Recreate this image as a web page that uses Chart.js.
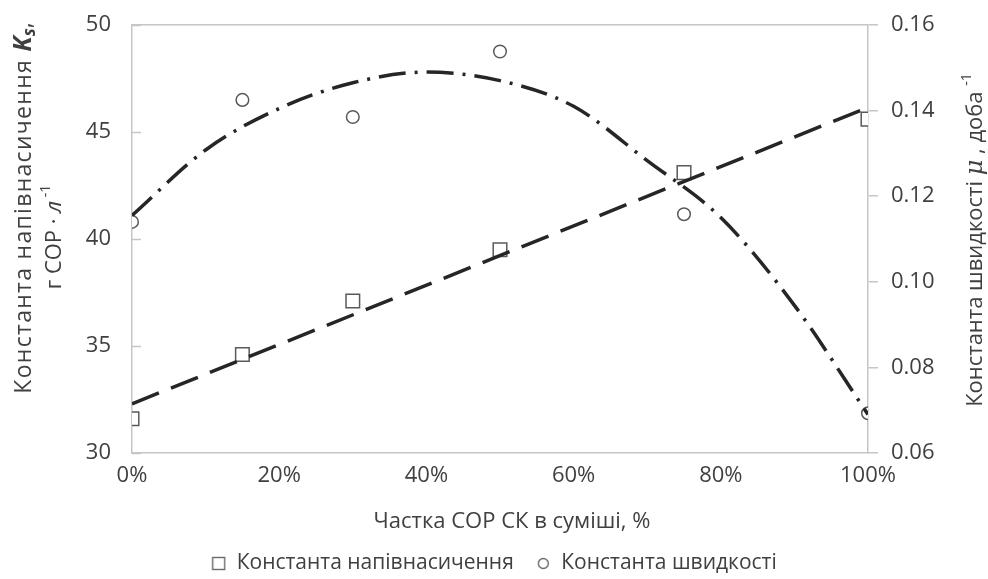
<!DOCTYPE html>
<html><head><meta charset="utf-8">
<script src="https://cdn.jsdelivr.net/npm/chart.js@4/dist/chart.umd.min.js"></script>
<style>html,body{margin:0;padding:0;background:#fff;}canvas{display:block;}</style>
</head><body>
<canvas id="c" width="988" height="579"></canvas>
<script>
// ---- data ----
const shareX = [0, 15, 30, 50, 75, 100];               // % of SOR SK in the mixture
const ksValues = [31.6, 34.6, 37.1, 39.5, 43.1, 45.6]; // left axis
const muValues = [0.114, 0.1425, 0.1385, 0.1538, 0.1158, 0.0693]; // right axis
const ksTrendX = [0, 100];
const ksTrendY = [32.3, 46.15];
const muTrendX = [0, 10, 20, 30, 40, 50, 60, 70, 80, 90, 100];
const muTrendY = [0.1155, 0.1308, 0.1405, 0.1465, 0.149, 0.147, 0.141, 0.1283, 0.115, 0.0945, 0.069];
const xTickValues = [0, 20, 40, 60, 80, 100];
const leftTickValues = [30, 35, 40, 45, 50];
const rightTickValues = [0.06, 0.08, 0.10, 0.12, 0.14, 0.16];
const legendLabels = ['Константа напівнасичення', 'Константа швидкості'];
const xTitle = 'Частка СОР СК в суміші, %';

const FONT = '"Open Sans", "Noto Sans", sans-serif';
const TXT = '#404040';
const AX = '#c6c6c6';
const LINE = '#262626';
const MK = '#5a5a5a';
const PLOT_BOTTOM = 453;

const pts = (xs, ys) => xs.map((x, i) => ({x: x, y: ys[i]}));

function markerCanvas(kind) {
  const c = document.createElement('canvas');
  const s = kind === 'rect' ? 15 : 13;
  c.width = s; c.height = s;
  const g = c.getContext('2d');
  g.strokeStyle = '#6a6a6a'; g.lineWidth = 1.4; g.fillStyle = '#fff';
  if (kind === 'rect') { g.fillRect(1, 1, 13, 13); g.strokeRect(1.5, 1.5, 12, 12); }
  else { g.beginPath(); g.arc(6.5, 6.5, 5, 0, Math.PI * 2); g.fill(); g.stroke(); }
  return c;
}
const legendIcons = [markerCanvas('rect'), markerCanvas('circle')];

function drawRich(ctx, segs, cx, cy, rot) {
  ctx.save();
  ctx.translate(cx, cy);
  ctx.rotate(rot);
  ctx.textBaseline = 'middle';
  ctx.textAlign = 'left';
  let total = 0;
  segs.forEach(s => {
    ctx.font = s.font; ctx.letterSpacing = s.ls || '0px';
    s.w = ctx.measureText(s.t).width; total += s.w;
  });
  let x = -total / 2;
  segs.forEach(s => {
    ctx.font = s.font; ctx.letterSpacing = s.ls || '0px'; ctx.fillStyle = TXT;
    ctx.fillText(s.t, x, s.dy || 0);
    x += s.w;
  });
  ctx.restore();
}

const titlesPlugin = {
  id: 'titles',
  afterDraw(chart) {
    const ctx = chart.ctx;
    const N = '22px ' + FONT;
    // left title, line 1
    drawRich(ctx, [
      {t: 'Константа напівнасичення ', font: '23px ' + FONT, ls: '1.3px'},
      {t: 'K', font: 'italic bold 25px ' + FONT},
      {t: 's', font: 'italic bold 17px ' + FONT, dy: 6},
      {t: ',', font: '23px ' + FONT}
    ], 24, 208, -Math.PI / 2);
    // left title, line 2
    drawRich(ctx, [
      {t: 'г СОР · ', font: N},
      {t: 'л', font: 'italic 22px ' + FONT},
      {t: ' -1', font: '14px ' + FONT, dy: -9}
    ], 55, 237, -Math.PI / 2);
    // right title
    drawRich(ctx, [
      {t: 'Константа швидкості ', font: N},
      {t: 'μ', font: 'italic 24px "DejaVu Serif", serif'},
      {t: ' , доба ', font: N},
      {t: '-1', font: '14px ' + FONT, dy: -9}
    ], 976, 240, -Math.PI / 2);
    // x title
    drawRich(ctx, [{t: xTitle, font: N}], 512, 522, 0);
    // inward tick marks on the left axis
    const y = chart.scales.y, area = chart.chartArea;
    ctx.save();
    ctx.strokeStyle = AX; ctx.lineWidth = 1.5;
    leftTickValues.forEach(v => {
      const py = Math.round(y.getPixelForValue(v)) + 0.5;
      ctx.beginPath(); ctx.moveTo(area.left, py); ctx.lineTo(area.left + 9, py); ctx.stroke();
    });
    ctx.restore();
  }
};

const noPadV = s => { s.paddingTop = 0; s.paddingBottom = 0; };

new Chart(document.getElementById('c'), {
  type: 'scatter',
  data: {
    datasets: [
      {label: legendLabels[0], data: pts(shareX, ksValues), yAxisID: 'y', order: 1,
       pointStyle: 'rect', pointRadius: 9.6, pointBorderColor: MK, pointBackgroundColor: '#fff',
       pointBorderWidth: 1.5, showLine: false},
      {label: legendLabels[1], data: pts(shareX, muValues), yAxisID: 'y1', order: 1,
       pointStyle: 'circle', pointRadius: 6.3, pointBorderColor: MK, pointBackgroundColor: '#fff',
       pointBorderWidth: 1.5, showLine: false},
      {label: 'ksTrend', data: pts(ksTrendX, ksTrendY), yAxisID: 'y', order: 0,
       showLine: true, borderColor: LINE, borderWidth: 3.5, borderDash: [29, 13],
       pointRadius: 0, borderCapStyle: 'butt'},
      {label: 'muTrend', data: pts(muTrendX, muTrendY), yAxisID: 'y1', order: 0,
       showLine: true, borderColor: LINE, borderWidth: 3.5, borderDash: [27, 9, 3, 9],
       pointRadius: 0, tension: 0.4, cubicInterpolationMode: 'monotone', borderCapStyle: 'butt'}
    ]
  },
  options: {
    responsive: false, animation: false, devicePixelRatio: 1,
    layout: {padding: {top: 25, left: 0, right: 0, bottom: -5}},
    plugins: {
      tooltip: {enabled: false},
      legend: {
        position: 'bottom',
        labels: {
          usePointStyle: true, boxWidth: 15, boxHeight: 15, padding: 22,
          color: TXT, font: {family: FONT, size: 21},
          filter: item => item.datasetIndex < 2,
          generateLabels(chart) {
            const items = Chart.defaults.plugins.legend.labels.generateLabels(chart);
            items.forEach(it => { if (it.datasetIndex < 2) it.pointStyle = legendIcons[it.datasetIndex]; });
            return items;
          }
        }
      }
    },
    scales: {
      x: {
        type: 'linear', min: 0, max: 100,
        afterBuildTicks: s => { s.ticks = xTickValues.map(v => ({value: v})); },
        afterFit: s => {
          const lg = s.chart.legend ? s.chart.legend.height : 0;
          s.height = Math.max(20, 579 - PLOT_BOTTOM - lg + 5);
          s.paddingLeft = 0; s.paddingRight = 0;
        },
        ticks: {callback: v => v + '%', color: TXT, font: {family: FONT, size: 22}, padding: 10, maxRotation: 0},
        grid: {display: true, drawOnChartArea: false, drawTicks: false, color: AX},
        border: {display: true, color: AX, width: 1.5}
      },
      y: {
        position: 'left', min: 30, max: 50,
        afterBuildTicks: s => { s.ticks = leftTickValues.map(v => ({value: v})); },
        afterFit: s => { s.width = 132; noPadV(s); },
        ticks: {color: TXT, font: {family: FONT, size: 22}, padding: 21},
        grid: {drawTicks: false, color: c => (c.tick && c.tick.value === 50) ? AX : 'rgba(0,0,0,0)', lineWidth: 1.5},
        border: {display: true, color: AX, width: 1.5}
      },
      y1: {
        position: 'right', min: 0.06, max: 0.16,
        afterBuildTicks: s => { s.ticks = rightTickValues.map(v => ({value: v})); },
        afterFit: s => { s.width = 120; noPadV(s); },
        ticks: {color: TXT, font: {family: FONT, size: 22}, padding: 13, callback: v => v.toFixed(2)},
        grid: {drawOnChartArea: false, drawTicks: true, tickLength: 10, color: AX, lineWidth: 1.5},
        border: {display: true, color: AX, width: 1.5}
      }
    }
  },
  plugins: [titlesPlugin]
});
</script>
</body></html>
